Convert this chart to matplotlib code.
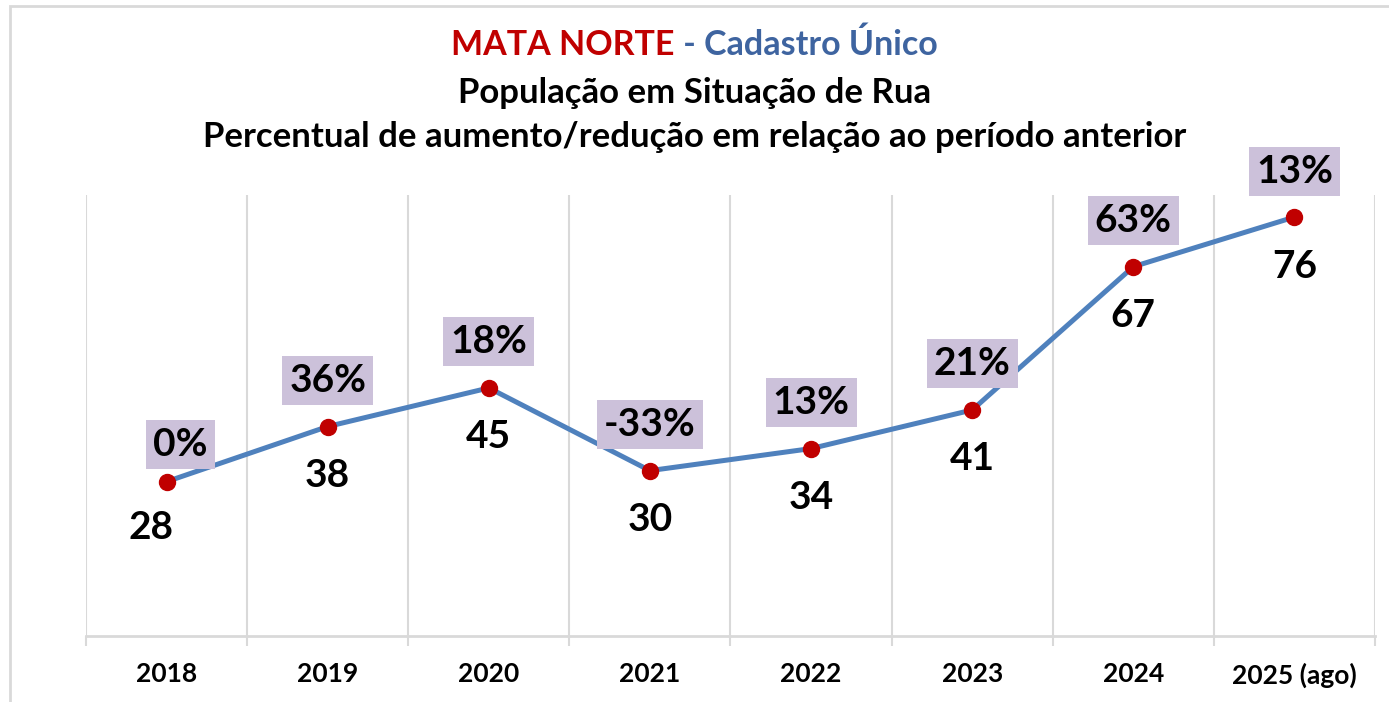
import matplotlib.pyplot as plt
from matplotlib.patches import Rectangle

anos = ['2018', '2019', '2020', '2021', '2022', '2023', '2024', '2025 (ago)']
pessoas = [28, 38, 45, 30, 34, 41, 67, 76]
variacao = ['0%', '36%', '18%', '-33%', '13%', '21%', '63%', '13%']

plt.rcParams['font.family'] = ['Lato', 'DejaVu Sans']
plt.rcParams['font.weight'] = 'bold'

W, H = 1389, 702
fig = plt.figure(figsize=(W / 100, H / 100), dpi=100)

# moldura cinza clara
fig.patches.append(Rectangle((10 / W, -0.1), 1.2, (1 - 6 / H) + 0.1, transform=fig.transFigure,
                             fill=False, ec='#D9D9D9', lw=2))

ax = fig.add_axes([86 / W, 1 - 636 / H, (1375 - 86) / W, (636 - 195) / H])
x = list(range(len(anos)))
ax.plot(x, pessoas, color='#4F81BD', lw=3.6, marker='o', ms=11.5,
        mfc='#C00000', mec='#C00000', zorder=3, solid_capstyle='round')

ax.set_xlim(-0.5, len(anos) - 0.5)
ax.set_ylim(0, 80)

# ticks e grade nas divisas das categorias
ax.set_xticks([i - 0.5 for i in range(len(anos) + 1)])
ax.set_xticklabels([])
ax.set_xticks(x, minor=True)
ax.set_xticklabels(anos, minor=True, fontsize=19, fontweight='bold')
ax.tick_params(axis='x', which='major', length=7, width=1.5, color='#D9D9D9', direction='out')
ax.tick_params(axis='x', which='minor', length=0, pad=19)
ax.xaxis.grid(True, which='major', color='#D9D9D9', lw=1.5)
ax.set_yticks([])
for s in ['top', 'left', 'right']:
    ax.spines[s].set_visible(False)
ax.spines['bottom'].set_color('#D9D9D9')
ax.spines['bottom'].set_linewidth(2)

# rótulos: valor abaixo, variação acima
for i, (v, p) in enumerate(zip(pessoas, variacao)):
    if i == 0:
        off_v, off_p = (-16, -46), (14, 37)
    else:
        off_v, off_p = (0, -49), (0, 46)
    ax.annotate(str(v), (i, v), xytext=(off_v[0] * 0.72, off_v[1] * 0.72), textcoords='offset points',
                ha='center', va='center', fontsize=28, fontweight='bold', color='black')
    ax.annotate(p, (i, v), xytext=(off_p[0] * 0.72, off_p[1] * 0.72), textcoords='offset points',
                ha='center', va='center', fontsize=28, fontweight='bold', color='black',
                bbox=dict(boxstyle='square,pad=0.18', fc='#CCC1DA', ec='none'), zorder=4)

# títulos
t1 = fig.text(0.5, 1 - 45 / H, 'MATA NORTE', ha='right', va='center', fontsize=24.5,
              fontweight='bold', color='#C00000')
fig.canvas.draw()
full_red = t1.get_window_extent().width
t2 = fig.text(0.5, 1 - 45 / H, ' - Cadastro Único', ha='left', va='center', fontsize=24.5,
              fontweight='bold', color='#3E64A0')
fig.canvas.draw()
full_blue = t2.get_window_extent().width
shift = (full_red - full_blue) / 2 / W
t1.set_x(0.5 + shift)
t2.set_x(0.5 + shift)

fig.text(0.5, 1 - 93 / H, 'População em Situação de Rua', ha='center', va='center',
         fontsize=25, fontweight='bold', color='black')
fig.text(0.5, 1 - 137 / H, 'Percentual de aumento/redução em relação ao período anterior',
         ha='center', va='center', fontsize=25, fontweight='bold', color='black')

fig.savefig('out.png', dpi=100)
